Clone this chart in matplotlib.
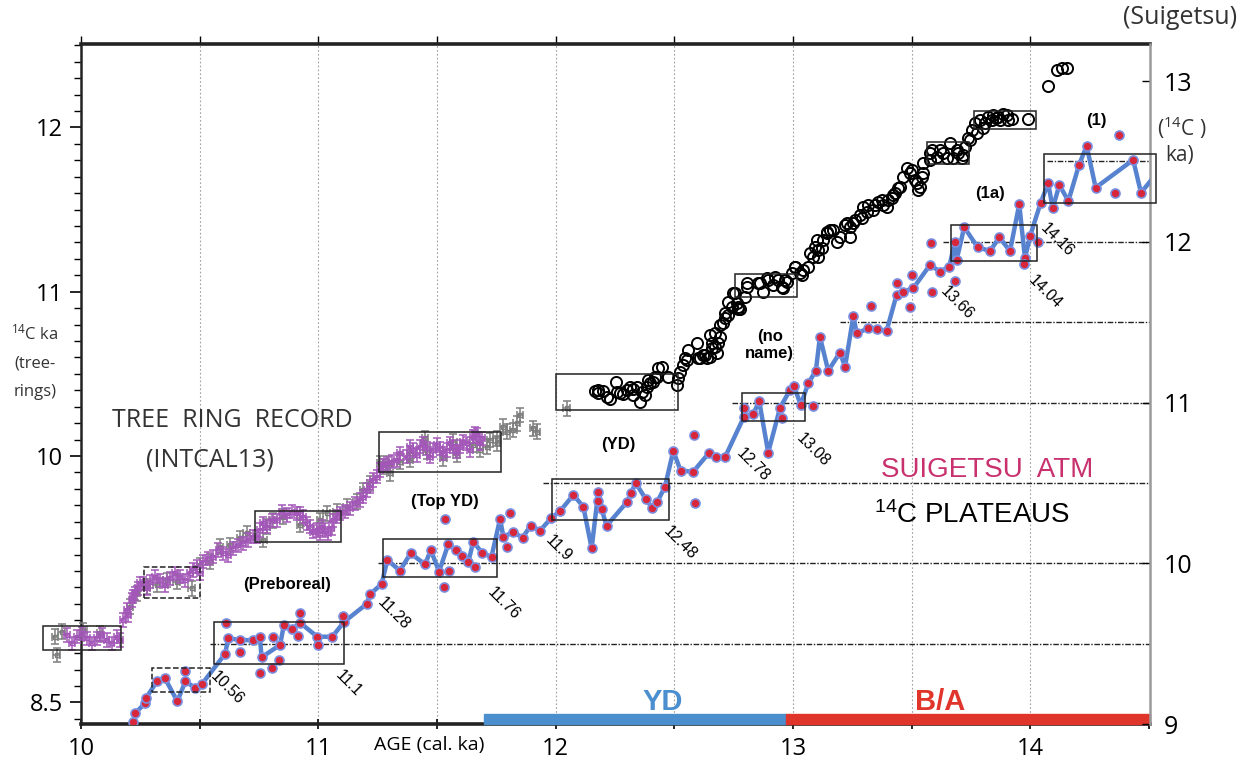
import matplotlib
matplotlib.use("Agg")
import matplotlib.pyplot as plt
from matplotlib.patches import Rectangle
from matplotlib.ticker import MultipleLocator

plt.rcParams['font.family'] = ['Open Sans', 'DejaVu Sans']
plt.rcParams['mathtext.default'] = 'regular'

# --- tree-ring record (IntCal13), left axis: cal ka vs 14C ka ---
intcal_x = [9.940, 9.982, 10.024, 10.066, 10.108, 10.150, 10.178, 10.193, 10.214, 10.228,
            10.241, 10.263, 10.291, 10.333, 10.375, 10.417, 10.459, 10.488, 10.515, 10.558,
            10.600, 10.642, 10.684, 10.726, 10.754, 10.783, 10.825, 10.867, 10.909, 10.937,
            10.965, 10.993, 11.014, 11.042, 11.063, 11.091, 11.134, 11.176, 11.204, 11.232,
            11.260, 11.288, 11.330, 11.373, 11.400, 11.429, 11.457, 11.485, 11.513, 11.541,
            11.569, 11.597, 11.625, 11.653, 11.668, 11.689,
            9.961, 10.003, 10.045, 10.087, 10.129, 10.164, 10.199, 10.220, 10.249, 10.277,
            10.312, 10.354, 10.396, 10.438, 10.473, 10.501, 10.536, 10.579, 10.621, 10.663,
            10.705, 10.740, 10.768, 10.804, 10.846, 10.888, 10.923, 10.951, 10.979, 11.007,
            11.028, 11.056, 11.078, 11.113, 11.155, 11.190, 11.218, 11.246, 11.274, 11.309,
            11.344, 11.386, 11.415, 11.443, 11.471, 11.499, 11.527, 11.555, 11.583, 11.611,
            11.639, 11.660, 11.681]
intcal_c14 = [8.911, 8.900, 8.890, 8.890, 8.880, 8.900, 9.002, 9.063, 9.124, 9.164,
              9.195, 9.225, 9.235, 9.245, 9.256, 9.266, 9.286, 9.326, 9.357, 9.387,
              9.408, 9.438, 9.469, 9.509, 9.550, 9.570, 9.610, 9.641, 9.651, 9.631,
              9.570, 9.550, 9.570, 9.529, 9.610, 9.651, 9.682, 9.732, 9.793, 9.854,
              9.915, 9.955, 9.976, 9.996, 10.037, 10.057, 10.047, 10.037, 10.047, 10.037,
              10.057, 10.057, 10.077, 10.118, 10.128, 10.108,
              8.860, 8.921, 8.860, 8.911, 8.860, 8.880, 9.032, 9.144, 9.225, 9.195,
              9.266, 9.215, 9.286, 9.245, 9.306, 9.286, 9.377, 9.428, 9.397, 9.458,
              9.489, 9.509, 9.590, 9.610, 9.661, 9.661, 9.651, 9.590, 9.539, 9.529,
              9.550, 9.560, 9.631, 9.661, 9.712, 9.752, 9.813, 9.874, 9.945, 9.966,
              10.016, 10.057, 10.006, 10.077, 9.996, 10.067, 10.016, 10.077, 10.026, 10.087,
              10.037, 10.138, 10.077]

# individual tree-ring measurements
rings_x = [9.890, 9.898, 9.919, 10.010, 10.080, 10.206, 10.235, 10.277, 10.319, 10.361,
           10.403, 10.466, 10.501, 10.544, 10.586, 10.628, 10.670, 10.698, 10.768, 10.783,
           10.810, 10.853, 10.923, 11.007, 11.035, 11.078, 11.120, 11.162, 11.190, 11.218,
           11.260, 11.295, 11.344, 11.386, 11.274, 11.302, 11.386, 11.450, 11.457, 11.527,
           11.569, 11.583, 11.653, 11.681, 11.710, 11.724, 11.752, 11.752, 11.780, 11.794,
           11.822, 11.836, 11.850, 11.906, 11.920, 12.047]
rings_c14 = [8.900, 8.789, 8.931, 8.941, 8.921, 9.083, 9.164, 9.205, 9.215, 9.245,
             9.235, 9.195, 9.337, 9.357, 9.448, 9.458, 9.499, 9.529, 9.489, 9.570,
             9.610, 9.631, 9.580, 9.610, 9.651, 9.661, 9.691, 9.722, 9.793, 9.834,
             9.955, 9.955, 9.966, 9.976, 9.935, 9.895, 10.016, 10.108, 10.026, 9.986,
             10.087, 10.006, 10.067, 10.037, 10.057, 10.097, 10.108, 10.077, 10.178, 10.148,
             10.158, 10.199, 10.250, 10.169, 10.148, 10.290]

# Suigetsu raw 14C ages (left axis)
sg_x = [12.166, 12.180, 12.198, 12.215, 12.229, 12.255, 12.271, 12.285, 12.302, 12.314,
        12.327, 12.342, 12.356, 12.363, 12.377, 12.391, 12.398, 12.412, 12.426, 12.433,
        12.447, 12.475, 12.510, 12.517, 12.524, 12.538, 12.545, 12.559, 12.595, 12.609,
        12.622, 12.637, 12.651, 12.658, 12.672, 12.686, 12.693, 12.707, 12.714, 12.728,
        12.742, 12.763, 12.777, 12.756, 12.770, 12.798, 12.805, 12.861, 12.876, 12.897,
        12.925, 12.953, 12.967, 12.995, 13.009, 13.037, 13.065, 13.086, 13.093, 13.107,
        13.128, 13.142, 13.156, 13.185, 13.220, 13.241, 13.262, 13.283, 13.297, 13.318,
        13.339, 13.360, 13.381, 13.402, 13.423, 13.444, 13.465, 13.479, 13.500, 13.515,
        13.536, 13.543, 13.550, 13.578, 13.585, 13.606, 13.634, 13.662, 13.676, 13.697,
        13.718, 13.725, 13.739, 13.753, 13.767, 13.788, 13.809, 13.823, 13.844, 13.858,
        13.873, 13.887, 13.908, 13.922, 13.992, 14.076, 14.112, 14.133, 14.154,
        12.180, 12.257, 12.327, 12.384, 12.419, 12.552, 12.601, 12.630, 12.651, 12.679,
        12.658, 12.672, 12.693, 12.714, 12.728, 12.749, 12.770, 12.805, 12.854, 12.890,
        12.917, 12.939, 12.960, 12.974, 13.009, 13.030, 13.044, 13.072, 13.100, 13.107,
        13.121, 13.142, 13.170, 13.198, 13.227, 13.241, 13.255, 13.290, 13.311, 13.346,
        13.374, 13.395, 13.416, 13.430, 13.451, 13.493, 13.522, 13.529, 13.550, 13.578,
        13.620, 13.648, 13.690, 13.711, 13.746, 13.774, 13.802, 13.838, 13.866, 13.901]
sg_c14 = [10.397, 10.402, 10.397, 10.361, 10.347, 10.452, 10.382, 10.377, 10.402, 10.418,
          10.406, 10.418, 10.331, 10.391, 10.371, 10.463, 10.442, 10.452, 10.479, 10.534,
          10.544, 10.479, 10.432, 10.473, 10.513, 10.554, 10.595, 10.645, 10.686, 10.595,
          10.615, 10.595, 10.736, 10.655, 10.665, 10.686, 10.726, 10.807, 10.838, 10.858,
          10.909, 10.929, 10.898, 10.990, 10.898, 10.970, 11.051, 11.051, 11.000, 11.071,
          11.091, 11.030, 11.071, 11.112, 11.152, 11.101, 11.152, 11.213, 11.274, 11.254,
          11.315, 11.365, 11.376, 11.304, 11.406, 11.396, 11.436, 11.467, 11.517, 11.528,
          11.497, 11.548, 11.528, 11.558, 11.589, 11.630, 11.700, 11.751, 11.741, 11.680,
          11.640, 11.700, 11.781, 11.842, 11.862, 11.822, 11.842, 11.903, 11.812, 11.842,
          11.832, 11.883, 11.933, 11.984, 12.025, 12.045, 12.025, 12.065, 12.075, 12.055,
          12.045, 12.082, 12.045, 12.049, 12.051, 12.254, 12.350, 12.360, 12.360,
          10.382, 10.391, 10.371, 10.422, 10.483, 10.584, 10.595, 10.615, 10.604, 10.625,
          10.686, 10.747, 10.797, 10.868, 10.939, 10.990, 10.909, 11.030, 11.051, 11.082,
          11.041, 11.071, 11.021, 11.061, 11.152, 11.112, 11.132, 11.234, 11.315, 11.213,
          11.264, 11.355, 11.376, 11.335, 11.416, 11.335, 11.416, 11.447, 11.487, 11.528,
          11.558, 11.517, 11.568, 11.599, 11.640, 11.721, 11.660, 11.619, 11.721, 11.802,
          11.862, 11.812, 11.862, 11.812, 11.923, 11.964, 11.994, 12.045, 12.065, 12.075]

# Suigetsu atmospheric 14C (right axis), connected series
atm_x = [10.220, 10.228, 10.270, 10.273, 10.322, 10.354, 10.406, 10.440, 10.480, 10.511,
         10.607, 10.621, 10.670, 10.726, 10.754, 10.761, 10.839, 10.855, 10.890, 10.923,
         10.996, 11.059, 11.108, 11.204, 11.218, 11.267, 11.291, 11.344, 11.389, 11.450,
         11.474, 11.509, 11.548, 11.579, 11.604, 11.632, 11.653, 11.692, 11.730, 11.766,
         11.780, 11.822, 11.861, 11.895, 11.934, 11.981, 12.019, 12.075, 12.117, 12.152,
         12.180, 12.194, 12.215, 12.302, 12.316, 12.338, 12.381, 12.408, 12.429, 12.461,
         12.496, 12.527, 12.580, 12.648, 12.678, 12.714, 12.794, 12.833, 12.858, 12.896,
         12.946, 12.988, 13.005, 13.033, 13.065, 13.097, 13.114, 13.149, 13.198, 13.220,
         13.255, 13.269, 13.318, 13.353, 13.395, 13.437, 13.465, 13.507, 13.578, 13.620,
         13.659, 13.683, 13.690, 13.722, 13.779, 13.831, 13.870, 13.915, 13.954, 13.978,
         14.000, 14.044, 14.076, 14.095, 14.123, 14.161, 14.206, 14.238, 14.276, 14.434,
         14.467, 14.530]
atm_c14 = [9.014, 9.067, 9.129, 9.160, 9.269, 9.284, 9.141, 9.265, 9.226, 9.251,
           9.436, 9.533, 9.523, 9.521, 9.539, 9.415, 9.492, 9.616, 9.591, 9.630,
           9.543, 9.543, 9.635, 9.747, 9.807, 9.871, 10.021, 9.954, 10.062, 9.993,
           10.083, 9.948, 10.120, 10.083, 10.045, 10.006, 10.134, 10.062, 10.041, 10.276,
           10.166, 10.193, 10.160, 10.234, 10.203, 10.280, 10.325, 10.425, 10.352, 10.093,
           10.446, 10.336, 10.234, 10.383, 10.435, 10.498, 10.398, 10.342, 10.383, 10.477,
           10.699, 10.576, 10.570, 10.689, 10.660, 10.660, 10.912, 10.927, 11.010, 10.689,
           10.968, 11.078, 11.103, 10.985, 11.120, 11.199, 11.410, 11.197, 11.311, 11.224,
           11.539, 11.431, 11.462, 11.458, 11.446, 11.670, 11.690, 11.711, 11.856, 11.815,
           11.846, 12.001, 11.887, 12.091, 11.966, 11.943, 12.028, 11.943, 12.234, 11.898,
           12.037, 12.242, 12.364, 12.209, 12.354, 12.254, 12.479, 12.597, 12.337, 12.510,
           12.306, 12.420]

# Suigetsu atmospheric 14C, samples off the connecting line
atm_extra_x = [10.440, 10.610, 10.670, 10.754, 10.806, 10.834, 10.808, 10.913, 10.923, 10.999,
               11.105, 11.534, 11.530, 11.551, 11.660, 11.794, 11.808, 12.180, 12.584, 12.587,
               12.794, 12.953, 13.083, 13.331, 13.437, 13.493, 13.500, 13.582, 13.585, 13.683,
               13.975, 14.034, 14.357, 14.374]
atm_extra_c14 = [9.331, 9.630, 9.450, 9.315, 9.347, 9.398, 9.539, 9.546, 9.693, 9.490,
                 9.672, 10.274, 9.855, 9.954, 9.979, 10.103, 10.311, 10.388, 10.798, 10.373,
                 10.968, 10.902, 10.981, 11.601, 11.742, 11.597, 11.794, 11.991, 11.690, 11.758,
                 11.861, 11.997, 12.306, 12.665]

# plateau boxes: (x0, x1, y0, y1, dashed)
tree_boxes = [(9.841, 10.167, 8.820, 8.967, False),
              (10.265, 10.501, 9.134, 9.326, True),
              (10.735, 11.094, 9.475, 9.667, False),
              (11.257, 11.770, 9.900, 10.144, False),
              (12.000, 12.515, 10.280, 10.500, False),
              (12.756, 13.016, 10.970, 11.110, False),
              (13.564, 13.743, 11.780, 11.910, False),
              (13.765, 14.025, 11.990, 12.100, False)]
atm_boxes = [(10.298, 10.544, 9.201, 9.347, True),
             (10.560, 11.108, 9.373, 9.637, False),
             (11.271, 11.754, 9.913, 10.149, False),
             (11.984, 12.479, 10.269, 10.523, False),
             (12.784, 13.051, 10.887, 11.058, False),
             (13.665, 14.030, 11.881, 12.105, False),
             (14.059, 14.530, 12.240, 12.545, False)]

# plateau levels (right axis) and where each reference line starts
plateau_levels = [9.5, 10.0, 10.5, 11.0, 11.5, 12.0, 12.5]
plateau_starts = [10.544, 11.252, 11.947, 12.742, 13.198, 13.633, 14.071]

# plateau boundary ages, label positions (x, right-axis y)
age_labels = ['10.56', '11.1', '11.28', '11.76', '11.9', '12.48', '12.78', '13.08', '13.66', '14.04', '14.16']
age_label_x = [10.614, 11.127, 11.316, 11.780, 12.011, 12.524, 12.833, 13.086, 13.690, 14.062, 14.112]
age_label_y = [9.222, 9.253, 9.689, 9.751, 10.093, 10.124, 10.612, 10.705, 11.618, 11.690, 12.012]

plateau_names = ['(Preboreal)', '(Top YD)', '(YD)', '(no\nname)', '(1a)', '(1)']
plateau_name_x = [10.867, 11.534, 12.264, 12.903, 13.831, 14.280]
plateau_name_y = [9.865, 10.383, 10.736, 11.358, 12.298, 12.754]

# climate periods along the age axis
periods = ['YD', 'B/A']
period_start = [11.70, 12.97]
period_end = [12.97, 14.505]
period_label_x = [12.453, 13.620]
period_colors = ['#4b8fcf', '#e0352a']

grid_ages = [10.5, 11.0, 11.5, 12.0, 12.5, 13.0, 13.5, 14.0]

fig = plt.figure(figsize=(12.53, 7.6), dpi=100)
ax = fig.add_axes([81 / 1253, 36 / 760, 1069 / 1253, 680 / 760])
ax.set_xlim(10, 14.505)
ax.set_ylim(8.369, 12.508)

ax2 = ax.twinx()
ax2.set_ylim(9.0, 13.231)

for g in grid_ages:
    ax.axvline(g, color='#a0a0a0', lw=0.8, ls=(0, (1.5, 2)), zorder=0)

for lev, start in zip(plateau_levels, plateau_starts):
    ax2.plot([start, 14.505], [lev, lev], color='#222222', lw=1.0,
             ls=(0, (4, 1.2, 1, 1.2)), zorder=1)

# tree-ring data (extends slightly past the left edge)
ax.errorbar(rings_x, rings_c14, yerr=0.045, xerr=0.014, fmt='s', ms=3.5, mfc='none',
            mec='#7d7d7d', ecolor='#7d7d7d', elinewidth=1.1, capsize=3.2, capthick=1.1,
            zorder=3, clip_on=False)
ax.errorbar(intcal_x, intcal_c14, yerr=0.04, xerr=0.012, fmt='s', ms=3, mfc='none',
            mec='#a357b8', ecolor='#a357b8', elinewidth=1.1, capsize=3, capthick=1.1,
            zorder=4, clip_on=False)

ax.plot(sg_x, sg_c14, 'o', ms=8, mfc='none', mec='black', mew=1.4, zorder=5)

for x0, x1, y0, y1, dashed in tree_boxes:
    ax.add_patch(Rectangle((x0, y0), x1 - x0, y1 - y0, fill=False, ec='#222222', lw=1.1,
                           ls='--' if dashed else '-', zorder=6, clip_on=False))

ax2.plot(atm_x, atm_c14, '-', color='#5682cf', lw=3.2, zorder=3, solid_joinstyle='round')
ax2.plot(atm_x, atm_c14, 'o', ms=6.5, mfc='#d8263a', mec='#7b8fe0', mew=1.2, zorder=4)
ax2.plot(atm_extra_x, atm_extra_c14, 'o', ms=6.5, mfc='#d8263a', mec='#7b8fe0', mew=1.2, zorder=4)

for x0, x1, y0, y1, dashed in atm_boxes:
    ax2.add_patch(Rectangle((x0, y0), x1 - x0, y1 - y0, fill=False, ec='#222222', lw=1.1,
                            ls='--' if dashed else '-', zorder=6, clip_on=False))

for lab, lx, ly in zip(age_labels, age_label_x, age_label_y):
    ax2.text(lx, ly, lab, fontsize=11.5, rotation=-45, ha='center', va='center',
             family=['Liberation Sans', 'DejaVu Sans'], zorder=7)

for lab, lx, ly in zip(plateau_names, plateau_name_x, plateau_name_y):
    ax2.text(lx, ly, lab, fontsize=12, fontweight='bold', ha='center', va='center',
             family=['Liberation Sans', 'DejaVu Sans'], linespacing=1.1, zorder=7)

# period bars along the bottom
for name, p0, p1, lx, col in zip(periods, period_start, period_end, period_label_x, period_colors):
    ax.add_patch(Rectangle((p0, 0), p1 - p0, 0.014, transform=ax.get_xaxis_transform(),
                           color=col, zorder=8, clip_on=False))
    ax.text(lx, 0.033, name, transform=ax.get_xaxis_transform(), color=col, fontsize=21,
            fontweight='bold', ha='center', va='center', family=['Liberation Sans', 'DejaVu Sans'])

ax.text(10.636, 10.219, 'TREE  RING  RECORD', fontsize=18, color='#333333', ha='center', va='center')
ax.text(10.544, 9.976, '(INTCAL13)', fontsize=18, color='#333333', ha='center', va='center')
ax2.text(13.818, 10.581, 'SUIGETSU  ATM', fontsize=20, color='#c8306e', ha='center', va='center',
         family=['Liberation Sans', 'DejaVu Sans'])
ax2.text(13.755, 10.300, '$^{14}$C PLATEAUS', fontsize=20, color='black', ha='center', va='center',
         family=['Liberation Sans', 'DejaVu Sans'])

# axes styling
for side in ['left', 'top', 'bottom']:
    ax.spines[side].set_color('#222222')
ax.spines['top'].set_linewidth(2.6)
ax.spines['bottom'].set_linewidth(2.6)
ax.spines['left'].set_linewidth(1.8)
ax.spines['right'].set_visible(False)
ax2.spines['right'].set_color('#9a9a9a')
ax2.spines['right'].set_linewidth(1.8)
for side in ['left', 'top', 'bottom']:
    ax2.spines[side].set_visible(False)

ax.set_xticks([10, 11, 12, 13, 14])
ax.set_xticklabels(['10', '11', '12', '13', '14'])
ax.xaxis.set_minor_locator(MultipleLocator(0.5))
ax.tick_params(axis='x', which='both', direction='inout', length=7, width=1.2, labelsize=17, pad=6)
ax.set_yticks([8.5, 10, 11, 12])
ax.set_yticklabels(['8.5', '10', '11', '12'])
ax.yaxis.set_minor_locator(MultipleLocator(0.1))
ax.tick_params(axis='y', which='major', direction='out', length=8, width=1.2, labelsize=17, pad=5)
ax.tick_params(axis='y', which='minor', direction='out', length=5, width=1.0)

top = ax.secondary_xaxis('top')
top.set_xticks(grid_ages + [10.0])
top.set_xticklabels([])
top.tick_params(direction='out', length=6, width=1.0)
top.spines['top'].set_visible(False)

ax2.set_yticks([9, 10, 11, 12, 13])
ax2.set_yticklabels(['9', '10', '11', '12', '13'])
ax2.tick_params(axis='y', direction='in', length=6, width=1.0, labelsize=18, pad=10)

fig.text(429 / 1253, 1 - 745 / 760, 'AGE (cal. ka)', fontsize=14, ha='center', va='center')
fig.text(1237 / 1253, 1 - 18 / 760, '(Suigetsu)', fontsize=18, ha='right', va='center', color='#333333')
fig.text(1182 / 1253, 1 - 128 / 760, '($^{14}$C )', fontsize=15, ha='center', va='center', color='#333333')
fig.text(1180 / 1253, 1 - 155 / 760, 'ka)', fontsize=15, ha='center', va='center', color='#333333')
fig.text(35 / 1253, 1 - 333 / 760, '$^{14}$C ka', fontsize=12, ha='center', va='center', color='#333333')
fig.text(35 / 1253, 1 - 364 / 760, '(tree-', fontsize=12, ha='center', va='center', color='#333333')
fig.text(35 / 1253, 1 - 392 / 760, 'rings)', fontsize=12, ha='center', va='center', color='#333333')

fig.savefig('out.png', dpi=100)
